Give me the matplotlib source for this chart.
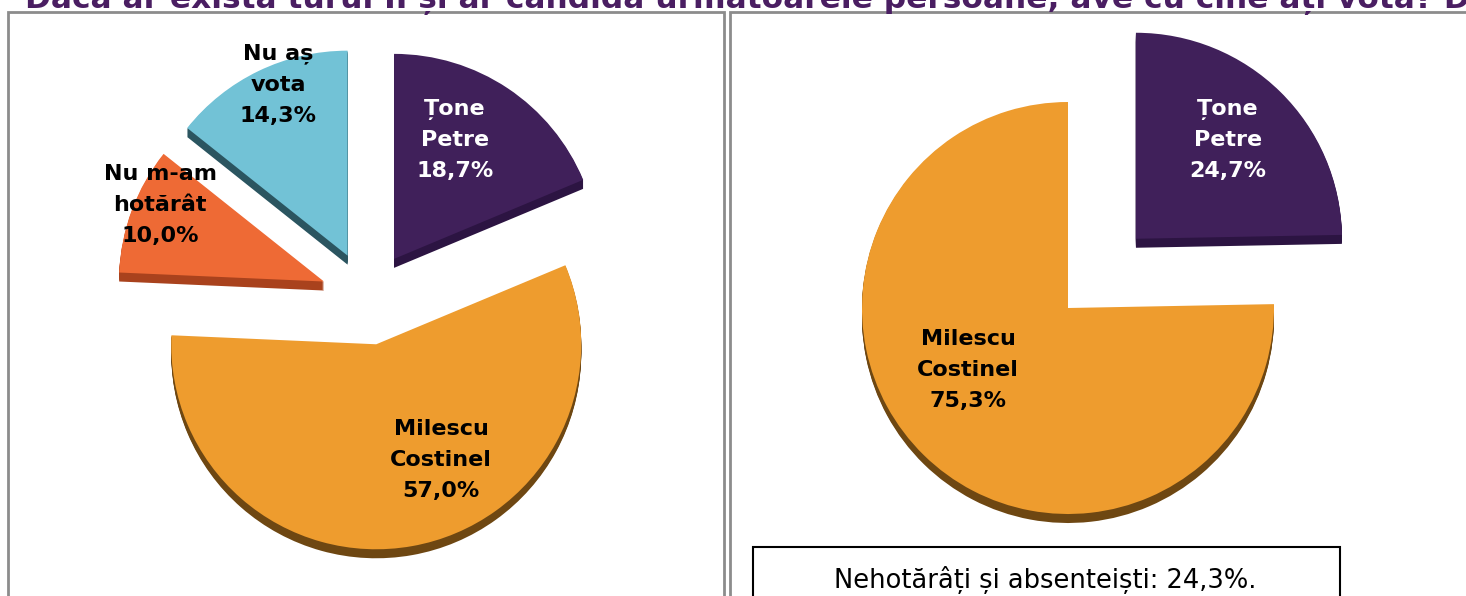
import matplotlib.pyplot as plt
from matplotlib.patches import Rectangle

# data
left_labels = ["Țone\nPetre\n18,7%", "Milescu\nCostinel\n57,0%", "Nu m-am\nhotărât\n10,0%", "Nu aș\nvota\n14,3%"]
left_values = [18.7, 57.0, 10.0, 14.3]
left_colors = ["#40205a", "#ee9c2e", "#ee6a35", "#72c2d6"]
left_sides = ["#2c1442", "#6e4712", "#a9421d", "#2b5560"]
left_text_colors = ["white", "black", "black", "black"]

right_labels = ["Țone\nPetre\n24,7%", "Milescu\nCostinel\n75,3%"]
right_values = [24.7, 75.3]
right_colors = ["#40205a", "#ee9c2e"]
right_sides = ["#2c1442", "#6e4712"]
right_text_colors = ["white", "black"]

title = "Dacă ar exista turul II și ar candida următoarele persoane, ave cu cine ați vota? D"
note = "Nehotărâți și absenteiști: 24,3%."

W, H = 1466, 596
fig = plt.figure(figsize=(W / 100, H / 100), dpi=100)
ax = fig.add_axes([0, 0, 1, 1])


def Y(py):
    # pixel row -> data y
    return H - py


def pie3d(center, radius, values, colors, sides, explode, depth=9):
    cx, cy = center
    # stacked dark copies shifted down make the side of the slab
    for k in range(1, depth + 1):
        ax.pie(values, colors=sides, explode=explode, startangle=90, counterclock=False,
               center=(cx, cy - k), radius=radius, frame=True,
               wedgeprops=dict(linewidth=0, zorder=1))
    ax.pie(values, colors=colors, explode=explode, startangle=90, counterclock=False,
           center=(cx, cy), radius=radius, frame=True,
           wedgeprops=dict(linewidth=0, zorder=2))


# left pie (explode is in data units here, not a fraction)
pie3d((368, Y(298)), 205, left_values, left_colors, left_sides, [47, 47, 47, 47])
left_pos = [(455, 140), (441, 460), (160, 205), (278, 85)]
for lab, (px, py), tc in zip(left_labels, left_pos, left_text_colors):
    ax.text(px, Y(py), lab, ha="center", va="center", fontsize=16, fontweight="bold",
            color=tc, linespacing=1.68, zorder=5)

# right pie
pie3d((1068, Y(308)), 206, right_values, right_colors, right_sides, [97, 0])
right_pos = [(1228, 140), (968, 370)]
for lab, (px, py), tc in zip(right_labels, right_pos, right_text_colors):
    ax.text(px, Y(py), lab, ha="center", va="center", fontsize=16, fontweight="bold",
            color=tc, linespacing=1.68, zorder=5)

# panel frames
ax.add_patch(Rectangle((8, Y(620)), 716, 608, fill=False, edgecolor="#8c8c8c", lw=2, zorder=0))
ax.add_patch(Rectangle((730, Y(620)), 760, 608, fill=False, edgecolor="#8c8c8c", lw=2, zorder=0))

# note box
ax.add_patch(Rectangle((753, Y(620)), 587, 73, facecolor="white", edgecolor="black", lw=1.5, zorder=6))
ax.text(1045, Y(580), note, ha="center", va="center", fontsize=18.5, color="black", zorder=7)

# title, cut off by the top edge
ax.text(25, Y(8), title, ha="left", va="baseline", fontsize=22.5, fontweight="bold",
        color="#4a1e62", zorder=7)

ax.set_xlim(0, W)
ax.set_ylim(0, H)
ax.set_aspect("equal")
ax.axis("off")

fig.savefig("out.png", dpi=100)
